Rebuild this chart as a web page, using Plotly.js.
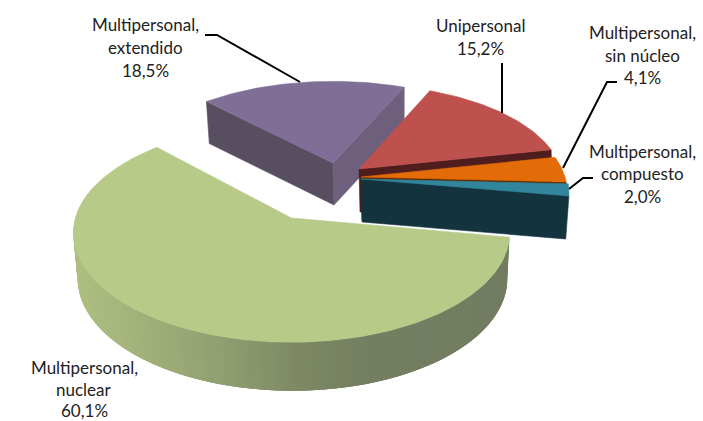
<!DOCTYPE html>
<html><head><meta charset="utf-8">
<script src="https://cdn.plot.ly/plotly-3.0.1.min.js"></script>
<style>html,body{margin:0;padding:0;background:#fff}#c{width:703px;height:421px}</style>
</head><body><div id="c"></div>
<script>
// ---- data ----
var categories = ["Unipersonal","Multipersonal, sin núcleo","Multipersonal, compuesto","Multipersonal, nuclear","Multipersonal, extendido"];
var values = [15.2,4.1,2.0,60.1,18.5];
var percentLabels = ["15,2%","4,1%","2,0%","60,1%","18,5%"];

// ---- drawing configuration ----
var labelLines = [["Unipersonal"],["Multipersonal,","sin núcleo"],["Multipersonal,","compuesto"],["Multipersonal,","nuclear"],["Multipersonal,","extendido"]];
var labelX = [480,642,642,84,145];
var labelY = [[25,48],[32,55,77],[151,173,196],[367,389,410],[24,47,70]];
var leaders = [
 {x:[502,502],y:[63,113]},
 {x:[617,607,563],y:[82,82,168]},
 {x:[593,583,569],y:[178,178,189]},
 {x:[205,217,300],y:[35,35,82]}
];
var startAngle = 23.3, persp = 0.139;
var geom = [
 {ax:359,ay:169,rx:202,ry:96, h:43,k:1,   hp:0,  top:"#be504d",wall:"#4f1d1d"},
 {ax:361,ay:177,rx:204,ry:98, h:43,k:.98, hp:0,  top:"#e36c09",wall:"#5a2c05"},
 {ax:361,ay:179,rx:206,ry:95, h:43,k:.98, hp:0,  top:"#31859c",wall:"#13343f"},
 {ax:291.5,ay:218,rx:216,ry:107,h:45,k:.985,hp:.5, top:"#b7ca88",wall:null},
 {ax:333,ay:163,rx:203,ry:93, h:42,k:.985,hp:0,  top:"#7f6e96",wall:"#574f60",wall2:"#6e5f7c"}
];
var greenStops = [[72,[176,192,130]],[150,[160,175,120]],[220,[145,160,113]],[300,[125,136,100]],[370,[116,126,97]],[508,[114,124,96]]];
var FONT = "Lato, Carlito, Calibri, 'Open Sans', sans-serif";

// ---- angles from the values ----
var total = values.reduce(function(a,b){return a+b;},0);
var angles = [], acc = startAngle;
values.forEach(function(v){var a0=acc; acc+=v/total*360; angles.push([a0,acc]);});

function pt(g,deg,low){
  var t=deg*Math.PI/180, X=Math.sin(t), F=-Math.cos(t), s=1/(1-persp*F);
  var x=g.ax+g.rx*X*s, y=g.ay+g.ry*F*s;
  if(low){ x=g.ax+1+(x-g.ax)*g.k; y+=g.h*Math.pow(s,g.hp); }
  return [x,y];
}
function apexPt(g,low){ return low?[g.ax+1,g.ay+g.h]:[g.ax,g.ay]; }
function poly(points,color,name,text,lw){
  return {type:"scatter",mode:"lines",x:points.map(function(p){return p[0];}),y:points.map(function(p){return p[1];}),
    fill:"toself",fillcolor:color,line:{color:color,width:lw===undefined?0.6:lw},name:name||"",hoverinfo:text?"text":"skip",text:text||undefined,showlegend:false};
}
function topFace(i){
  var g=geom[i],a=angles[i],pts=[apexPt(g)];
  for(var d=a[0];d<a[1];d+=1) pts.push(pt(g,d));
  pts.push(pt(g,a[1])); pts.push(apexPt(g));
  return poly(pts,g.top,categories[i],categories[i]+" "+percentLabels[i]);
}
function radial(i,deg,color){
  var g=geom[i];
  return poly([apexPt(g),pt(g,deg),pt(g,deg,true),apexPt(g,true),apexPt(g)],color);
}
function mix(x){
  for(var i=1;i<greenStops.length;i++){
    if(x<=greenStops[i][0]){
      var a=greenStops[i-1],b=greenStops[i],f=Math.max(0,(x-a[0])/(b[0]-a[0]));
      return "rgb("+[0,1,2].map(function(c){return Math.round(a[1][c]+(b[1][c]-a[1][c])*f);}).join(",")+")";
    }
  }
  return "rgb("+greenStops[greenStops.length-1][1].join(",")+")";
}

var traces=[];
// extendido (back)
traces.push(radial(4,angles[4][0],geom[4].wall));
traces.push(radial(4,angles[4][1],geom[4].wall2));
traces.push(topFace(4));
// unipersonal
traces.push(radial(0,angles[0][1],geom[0].wall));
traces.push(topFace(0));
// sin nucleo
traces.push(radial(1,angles[1][1],geom[1].wall));
traces.push(topFace(1));
// compuesto
traces.push(radial(2,angles[2][1],geom[2].wall));
traces.push(topFace(2));
// nuclear: overlapping outer wall strips (no seams), then the top face
var gN=geom[3], step=1.5;
for(var d=angles[3][0];d<288;d+=step){
  var p1=pt(gN,d),p2=pt(gN,d+step*3),p3=pt(gN,d+step*3,true),p4=pt(gN,d,true),pm=pt(gN,d+step*.5),pn=pt(gN,d+step*.5,true);
  traces.push(poly([p1,p2,p3,p4,p1],mix((pm[0]+pn[0])/2),"","",0));
}
traces.push(topFace(3));
// leader lines
leaders.forEach(function(l){
  traces.push({type:"scatter",mode:"lines",x:l.x,y:l.y,line:{color:"#000",width:2},hoverinfo:"skip",showlegend:false});
});

var annotations=[];
categories.forEach(function(c,i){
  var lines=labelLines[i].concat([percentLabels[i]]);
  lines.forEach(function(t,j){
    annotations.push({x:labelX[i],y:labelY[i][j],xref:"x",yref:"y",text:t,showarrow:false,xanchor:"center",yanchor:"middle",
      font:{family:FONT,size:17,color:"#222222"}});
  });
});

Plotly.newPlot("c",traces,{
  width:703,height:421,margin:{l:0,r:0,t:0,b:0},paper_bgcolor:"#fff",plot_bgcolor:"#fff",showlegend:false,
  xaxis:{range:[0,703],visible:false,fixedrange:true},
  yaxis:{range:[421,0],visible:false,fixedrange:true},
  annotations:annotations
},{displayModeBar:false,staticPlot:true});
</script></body></html>
